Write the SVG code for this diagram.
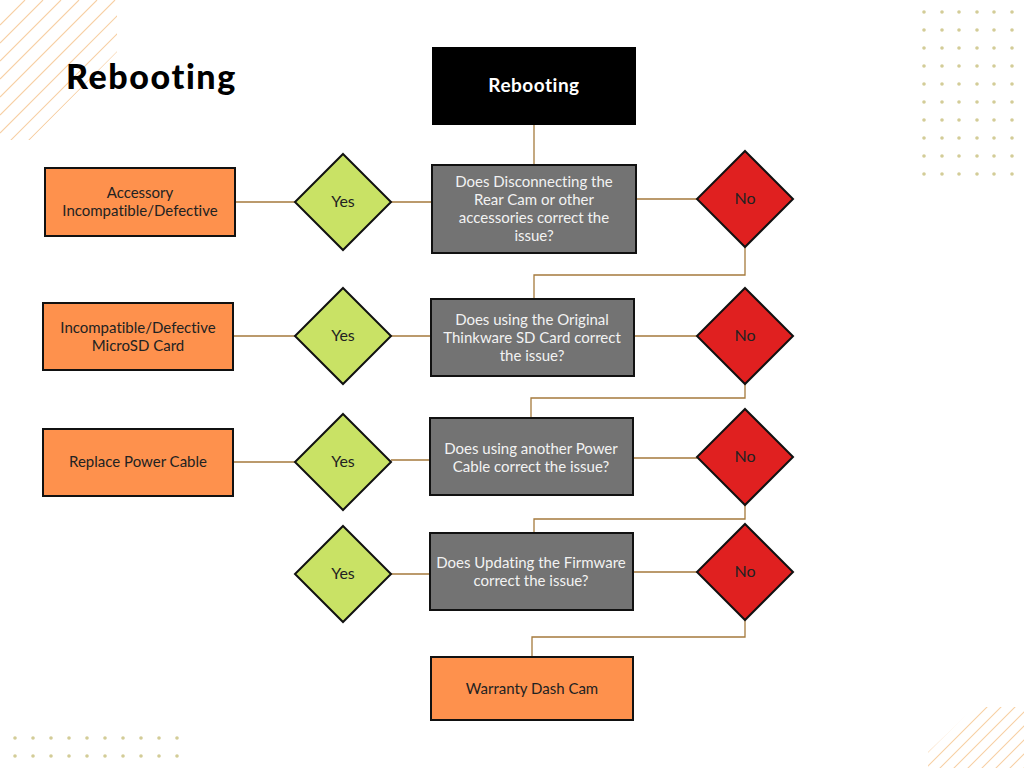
<svg xmlns="http://www.w3.org/2000/svg" width="1024" height="768" viewBox="0 0 1024 768">
<defs>
<style>
text{font-variant-ligatures:none}
.hatch{stroke:#f7cfa3;stroke-width:1.1;fill:none}
.dot{fill:#d3cc97}
.conn{stroke:#a57a3c;stroke-width:1.3;fill:none}
.out{fill:#fe914d;stroke:#111;stroke-width:2}
.q{fill:#737373;stroke:#111;stroke-width:2}
.yes{fill:#c9e265;stroke:#111;stroke-width:2}
.no{fill:#e02020;stroke:#111;stroke-width:2}
.t{font-family:Lato,"Liberation Sans",sans-serif;font-size:15px;text-anchor:middle}
.tq{fill:#f2f2f2}
.to{fill:#222}
.td{font-size:16px;fill:#222}
</style>
<clipPath id="c1"><polygon points="0,0 117,0 117,52 30,140 0,140"/></clipPath>
<clipPath id="c2"><polygon points="928,768 928,752 975,707 1024,707 1024,768"/></clipPath>
</defs>
<rect width="1024" height="768" fill="#fff"/>
<g id="decor">
<g clip-path="url(#c1)">
<line class="hatch" x1="0" y1="25" x2="25" y2="0"/>
<line class="hatch" x1="0" y1="43" x2="43" y2="0"/>
<line class="hatch" x1="0" y1="61" x2="61" y2="0"/>
<line class="hatch" x1="0" y1="79" x2="79" y2="0"/>
<line class="hatch" x1="0" y1="97" x2="97" y2="0"/>
<line class="hatch" x1="0" y1="115" x2="115" y2="0"/>
<line class="hatch" x1="0" y1="133" x2="133" y2="0"/>
<line class="hatch" x1="0" y1="151" x2="151" y2="0"/>
<line class="hatch" x1="0" y1="169" x2="169" y2="0"/>
<line class="hatch" x1="0" y1="187" x2="187" y2="0"/>
</g>
<g clip-path="url(#c2)">
<line class="hatch" x1="900" y1="780" x2="990" y2="690"/>
<line class="hatch" x1="914" y1="780" x2="1004" y2="690"/>
<line class="hatch" x1="928" y1="780" x2="1018" y2="690"/>
<line class="hatch" x1="942" y1="780" x2="1032" y2="690"/>
<line class="hatch" x1="956" y1="780" x2="1046" y2="690"/>
<line class="hatch" x1="970" y1="780" x2="1060" y2="690"/>
<line class="hatch" x1="984" y1="780" x2="1074" y2="690"/>
<line class="hatch" x1="998" y1="780" x2="1088" y2="690"/>
<line class="hatch" x1="1012" y1="780" x2="1102" y2="690"/>
</g>
<g id="dots-tr">
<circle class="dot" cx="924" cy="12" r="1.8"/><circle class="dot" cx="942" cy="12" r="1.8"/><circle class="dot" cx="959" cy="12" r="1.8"/><circle class="dot" cx="977" cy="12" r="1.8"/><circle class="dot" cx="994" cy="12" r="1.8"/><circle class="dot" cx="1012" cy="12" r="1.8"/>
<circle class="dot" cx="924" cy="30" r="1.8"/><circle class="dot" cx="942" cy="30" r="1.8"/><circle class="dot" cx="959" cy="30" r="1.8"/><circle class="dot" cx="977" cy="30" r="1.8"/><circle class="dot" cx="994" cy="30" r="1.8"/><circle class="dot" cx="1012" cy="30" r="1.8"/>
<circle class="dot" cx="924" cy="48" r="1.8"/><circle class="dot" cx="942" cy="48" r="1.8"/><circle class="dot" cx="959" cy="48" r="1.8"/><circle class="dot" cx="977" cy="48" r="1.8"/><circle class="dot" cx="994" cy="48" r="1.8"/><circle class="dot" cx="1012" cy="48" r="1.8"/>
<circle class="dot" cx="924" cy="66" r="1.8"/><circle class="dot" cx="942" cy="66" r="1.8"/><circle class="dot" cx="959" cy="66" r="1.8"/><circle class="dot" cx="977" cy="66" r="1.8"/><circle class="dot" cx="994" cy="66" r="1.8"/><circle class="dot" cx="1012" cy="66" r="1.8"/>
<circle class="dot" cx="924" cy="84" r="1.8"/><circle class="dot" cx="942" cy="84" r="1.8"/><circle class="dot" cx="959" cy="84" r="1.8"/><circle class="dot" cx="977" cy="84" r="1.8"/><circle class="dot" cx="994" cy="84" r="1.8"/><circle class="dot" cx="1012" cy="84" r="1.8"/>
<circle class="dot" cx="924" cy="102" r="1.8"/><circle class="dot" cx="942" cy="102" r="1.8"/><circle class="dot" cx="959" cy="102" r="1.8"/><circle class="dot" cx="977" cy="102" r="1.8"/><circle class="dot" cx="994" cy="102" r="1.8"/><circle class="dot" cx="1012" cy="102" r="1.8"/>
<circle class="dot" cx="924" cy="120" r="1.8"/><circle class="dot" cx="942" cy="120" r="1.8"/><circle class="dot" cx="959" cy="120" r="1.8"/><circle class="dot" cx="977" cy="120" r="1.8"/><circle class="dot" cx="994" cy="120" r="1.8"/><circle class="dot" cx="1012" cy="120" r="1.8"/>
<circle class="dot" cx="924" cy="138" r="1.8"/><circle class="dot" cx="942" cy="138" r="1.8"/><circle class="dot" cx="959" cy="138" r="1.8"/><circle class="dot" cx="977" cy="138" r="1.8"/><circle class="dot" cx="994" cy="138" r="1.8"/><circle class="dot" cx="1012" cy="138" r="1.8"/>
<circle class="dot" cx="924" cy="156" r="1.8"/><circle class="dot" cx="942" cy="156" r="1.8"/><circle class="dot" cx="959" cy="156" r="1.8"/><circle class="dot" cx="977" cy="156" r="1.8"/><circle class="dot" cx="994" cy="156" r="1.8"/><circle class="dot" cx="1012" cy="156" r="1.8"/>
<circle class="dot" cx="924" cy="174" r="1.8"/><circle class="dot" cx="942" cy="174" r="1.8"/><circle class="dot" cx="959" cy="174" r="1.8"/><circle class="dot" cx="977" cy="174" r="1.8"/><circle class="dot" cx="994" cy="174" r="1.8"/><circle class="dot" cx="1012" cy="174" r="1.8"/>
</g>
<g id="dots-bl">
<circle class="dot" cx="15" cy="738" r="1.8"/><circle class="dot" cx="33" cy="738" r="1.8"/><circle class="dot" cx="51" cy="738" r="1.8"/><circle class="dot" cx="69" cy="738" r="1.8"/><circle class="dot" cx="87" cy="738" r="1.8"/><circle class="dot" cx="105" cy="738" r="1.8"/><circle class="dot" cx="123" cy="738" r="1.8"/><circle class="dot" cx="141" cy="738" r="1.8"/><circle class="dot" cx="159" cy="738" r="1.8"/><circle class="dot" cx="177" cy="738" r="1.8"/>
<circle class="dot" cx="15" cy="756" r="1.8"/><circle class="dot" cx="33" cy="756" r="1.8"/><circle class="dot" cx="51" cy="756" r="1.8"/><circle class="dot" cx="69" cy="756" r="1.8"/><circle class="dot" cx="87" cy="756" r="1.8"/><circle class="dot" cx="105" cy="756" r="1.8"/><circle class="dot" cx="123" cy="756" r="1.8"/><circle class="dot" cx="141" cy="756" r="1.8"/><circle class="dot" cx="159" cy="756" r="1.8"/><circle class="dot" cx="177" cy="756" r="1.8"/>
</g>
</g>
<text x="66" y="89" font-family="Lato,'Liberation Sans',sans-serif" font-size="34" font-weight="900" letter-spacing="1.6" fill="#000">Rebooting</text>
<g id="connectors">
<path class="conn" d="M534,125 V165"/>
<path class="conn" d="M235,202 H295 M391,202 H432 M636,199 H697"/>
<path class="conn" d="M745,247 V275 H534 V299"/>
<path class="conn" d="M233,336 H295 M391,336 H431 M634,336 H697"/>
<path class="conn" d="M745,384 V398 H531 V418"/>
<path class="conn" d="M233,462 H295 M391,460 H430 M633,458 H697"/>
<path class="conn" d="M745,505 V519 H534 V533"/>
<path class="conn" d="M391,574 H430 M633,572 H697"/>
<path class="conn" d="M745,620 V637 H532 V657"/>
</g>
<g id="start">
<rect x="432" y="47" width="204" height="78" fill="#000"/>
<text class="t" x="534" y="92" font-weight="bold" letter-spacing="0.5" fill="#fff" style="font-size:19px">Rebooting</text>
</g>
<g id="q1">
<rect class="q" x="432" y="165" width="204" height="88"/>
<text class="t tq" x="534" y="187">Does Disconnecting the</text>
<text class="t tq" x="534" y="205">Rear Cam or other</text>
<text class="t tq" x="534" y="223">accessories correct the</text>
<text class="t tq" x="534" y="241">issue?</text>
</g>
<g id="yes1"><polygon class="yes" points="343,154 391,202 343,250 295,202"/><text class="t td" x="343" y="207">Yes</text></g>
<g id="no1"><polygon class="no" points="745,151 793,199 745,247 697,199"/><text class="t td" x="745" y="204">No</text></g>
<g id="out1">
<rect class="out" x="45" y="168" width="190" height="68"/>
<text class="t to" x="140" y="198">Accessory</text>
<text class="t to" x="140" y="216">Incompatible/Defective</text>
</g>
<g id="q2">
<rect class="q" x="431" y="299" width="203" height="77"/>
<text class="t tq" x="532" y="325">Does using the Original</text>
<text class="t tq" x="532" y="343">Thinkware SD Card correct</text>
<text class="t tq" x="532" y="361">the issue?</text>
</g>
<g id="yes2"><polygon class="yes" points="343,288 391,336 343,384 295,336"/><text class="t td" x="343" y="341">Yes</text></g>
<g id="no2"><polygon class="no" points="745,288 793,336 745,384 697,336"/><text class="t td" x="745" y="341">No</text></g>
<g id="out2">
<rect class="out" x="43" y="303" width="190" height="67"/>
<text class="t to" x="138" y="333">Incompatible/Defective</text>
<text class="t to" x="138" y="351">MicroSD Card</text>
</g>
<g id="q3">
<rect class="q" x="430" y="418" width="203" height="77"/>
<text class="t tq" x="531" y="454">Does using another Power</text>
<text class="t tq" x="531" y="472">Cable correct the issue?</text>
</g>
<g id="yes3"><polygon class="yes" points="343,414 391,462 343,510 295,462"/><text class="t td" x="343" y="467">Yes</text></g>
<g id="no3"><polygon class="no" points="745,409 793,457 745,505 697,457"/><text class="t td" x="745" y="462">No</text></g>
<g id="out3">
<rect class="out" x="43" y="429" width="190" height="67"/>
<text class="t to" x="138" y="467">Replace Power Cable</text>
</g>
<g id="q4">
<rect class="q" x="430" y="533" width="203" height="77"/>
<text class="t tq" x="531" y="568">Does Updating the Firmware</text>
<text class="t tq" x="531" y="586">correct the issue?</text>
</g>
<g id="yes4"><polygon class="yes" points="343,526 391,574 343,622 295,574"/><text class="t td" x="343" y="579">Yes</text></g>
<g id="no4"><polygon class="no" points="745,524 793,572 745,620 697,572"/><text class="t td" x="745" y="577">No</text></g>
<g id="warranty">
<rect class="out" x="431" y="657" width="202" height="63"/>
<text class="t to" x="532" y="694">Warranty Dash Cam</text>
</g>
</svg>
